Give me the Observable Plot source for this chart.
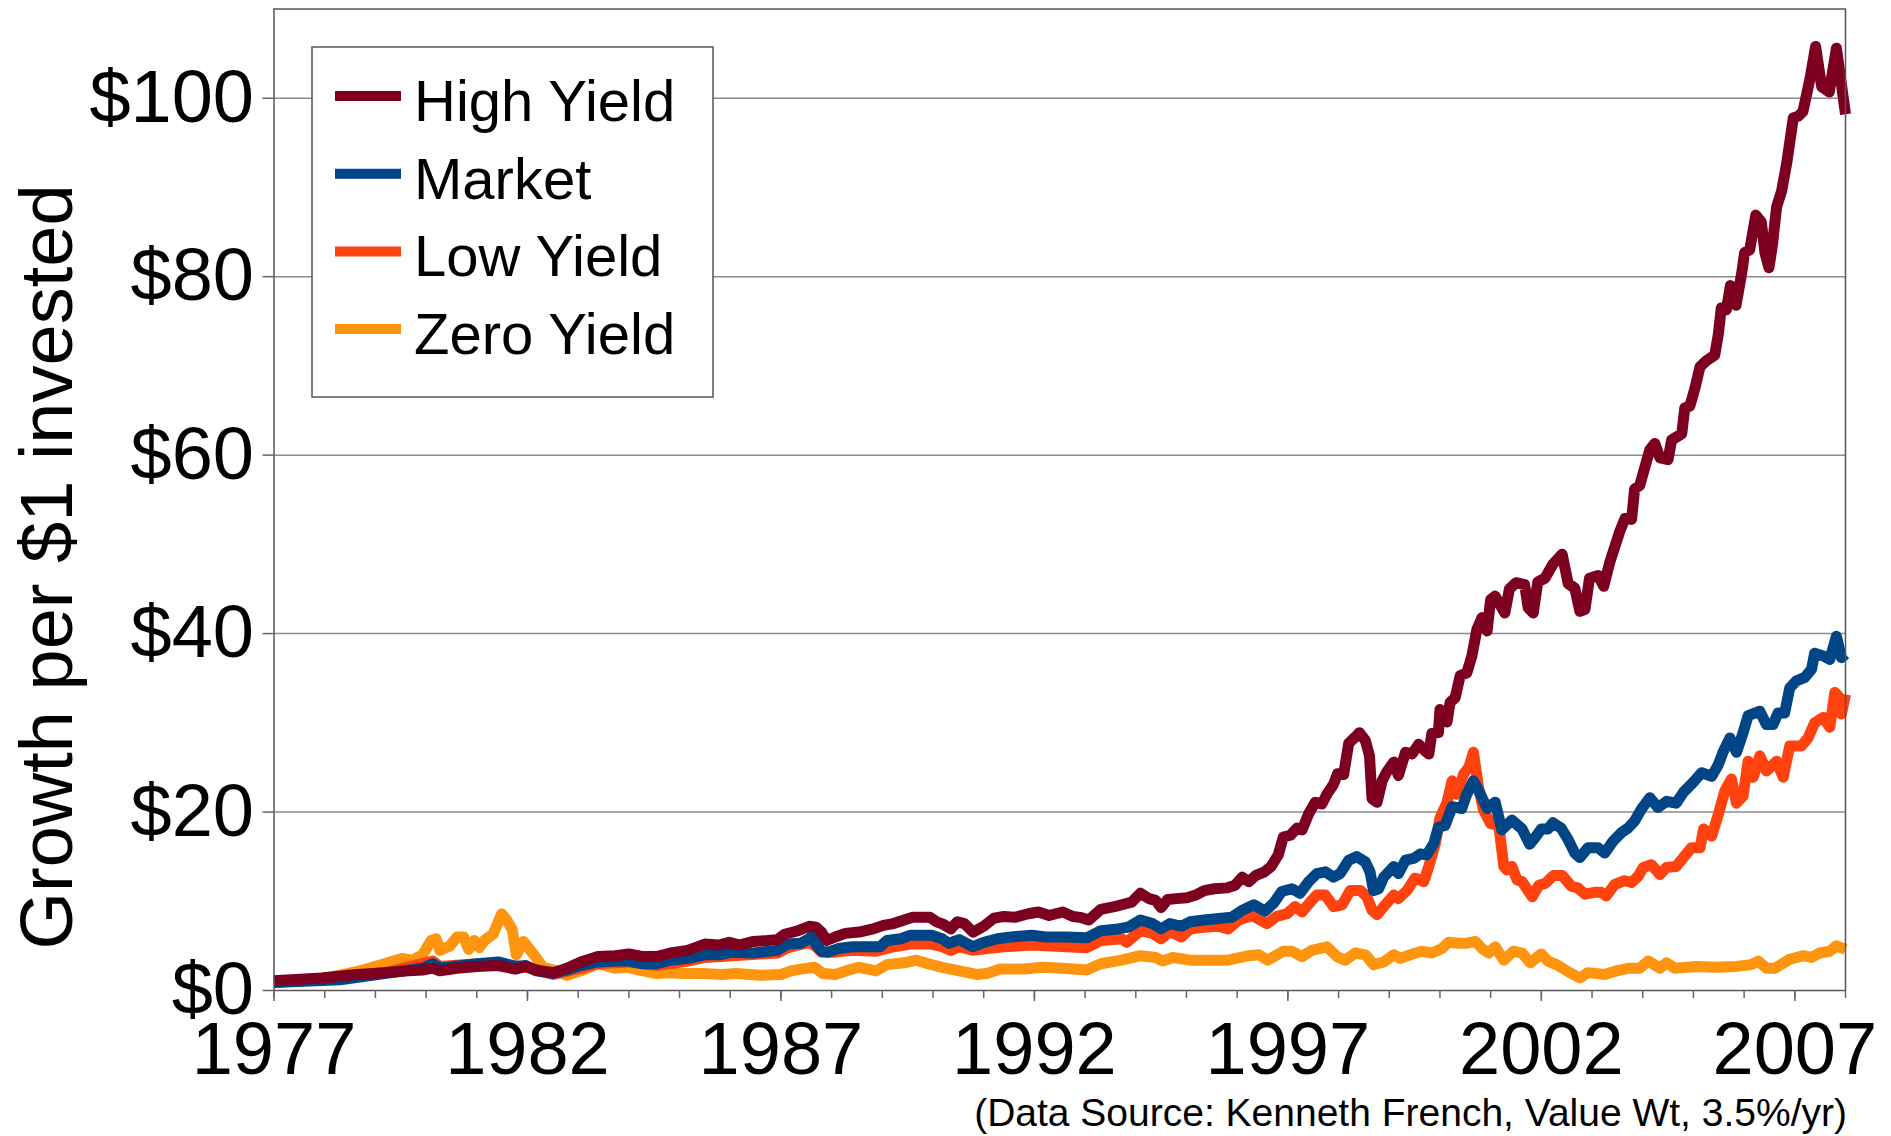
<!DOCTYPE html>
<html>
<head>
<meta charset="utf-8">
<script src="https://cdn.jsdelivr.net/npm/d3@7"></script>
<script src="https://cdn.jsdelivr.net/npm/@observablehq/plot@0.6"></script>
<style>
  html, body { margin: 0; padding: 0; background: #fff; }
  #wrap { position: relative; width: 1891px; height: 1136px; font-family: "Liberation Sans", Arial, sans-serif; }
  #caption { position: absolute; right: 44px; top: 1093px; font-size: 39px; line-height: 39px; color: #000; white-space: nowrap; }
</style>
</head>
<body>
<div id="wrap"><div id="chart"></div><div id="caption">(Data Source: Kenneth French, Value Wt, 3.5%/yr)</div></div>
<script>
// ---- data (year, growth of $1) ----
const seriesNames = ["High Yield", "Market", "Low Yield", "Zero Yield"];
const seriesColors = ["#7e0021", "#004586", "#ff420e", "#ff950e"];
const yTicks = [0, 20, 40, 60, 80, 100];
const xLabelTicks = [1977, 1982, 1987, 1992, 1997, 2002, 2007];
const xMinorTicks = d3.range(1977, 2009);
const yTitle = "Growth per $1 invested";

const highYield = [[1977.0,1.1],[1977.95,1.4],[1978.63,1.8],[1979.18,2.0],[1979.65,2.2],[1979.93,2.3],[1980.13,2.5],[1980.27,2.2],[1980.61,2.5],[1981.01,2.7],[1981.42,2.8],[1981.76,2.4],[1981.97,2.7],[1982.17,2.3],[1982.51,2.0],[1982.78,2.5],[1983.05,3.2],[1983.39,3.8],[1983.73,3.9],[1984.0,4.1],[1984.28,3.8],[1984.55,3.8],[1984.82,4.2],[1985.16,4.5],[1985.5,5.2],[1985.78,5.1],[1985.98,5.4],[1986.18,5.1],[1986.46,5.5],[1986.73,5.6],[1986.93,5.7],[1987.07,6.3],[1987.34,6.7],[1987.56,7.2],[1987.69,7.1],[1987.8,6.55],[1987.9,5.6],[1988.07,6.0],[1988.27,6.4],[1988.54,6.55],[1988.82,6.9],[1989.02,7.3],[1989.22,7.5],[1989.43,7.9],[1989.6,8.2],[1989.94,8.2],[1990.07,7.7],[1990.21,7.4],[1990.35,6.9],[1990.48,7.7],[1990.62,7.5],[1990.79,6.55],[1991.0,7.2],[1991.2,8.1],[1991.4,8.3],[1991.61,8.2],[1991.88,8.6],[1992.08,8.8],[1992.29,8.4],[1992.56,8.8],[1992.76,8.3],[1992.9,8.2],[1993.07,7.9],[1993.31,9.1],[1993.58,9.4],[1993.78,9.7],[1993.92,9.9],[1994.09,10.9],[1994.26,10.3],[1994.39,10.1],[1994.5,9.3],[1994.63,10.2],[1994.8,10.3],[1995.01,10.4],[1995.18,10.7],[1995.35,11.2],[1995.55,11.4],[1995.79,11.5],[1995.96,11.8],[1996.1,12.7],[1996.23,12.2],[1996.37,12.9],[1996.54,13.3],[1996.67,13.9],[1996.81,15.2],[1996.91,17.2],[1997.05,17.4],[1997.18,18.2],[1997.28,18.0],[1997.41,19.8],[1997.54,21.1],[1997.67,20.9],[1997.77,22.0],[1997.9,23.1],[1997.98,24.3],[1998.1,24.2],[1998.2,27.7],[1998.33,28.4],[1998.41,28.9],[1998.53,28.0],[1998.61,26.3],[1998.66,21.5],[1998.76,21.1],[1998.86,23.5],[1998.95,24.5],[1999.09,25.6],[1999.18,24.1],[1999.32,26.7],[1999.45,26.5],[1999.58,27.6],[1999.68,27.0],[1999.78,26.5],[1999.84,28.8],[1999.97,28.9],[2000.0,31.5],[2000.14,30.1],[2000.2,32.3],[2000.3,32.8],[2000.4,35.3],[2000.53,35.6],[2000.63,37.5],[2000.73,40.5],[2000.83,41.8],[2000.93,40.3],[2001.0,43.8],[2001.09,44.2],[2001.28,42.3],[2001.37,45.0],[2001.5,45.7],[2001.67,45.5],[2001.74,42.9],[2001.84,42.3],[2001.93,45.8],[2002.07,46.2],[2002.23,47.8],[2002.41,48.9],[2002.53,45.6],[2002.66,45.1],[2002.76,42.5],[2002.86,42.7],[2002.95,46.2],[2003.12,46.5],[2003.23,45.3],[2003.35,48.0],[2003.55,51.5],[2003.65,52.9],[2003.78,52.8],[2003.84,56.2],[2003.94,56.6],[2004.14,60.6],[2004.24,61.3],[2004.34,59.7],[2004.5,59.5],[2004.57,61.7],[2004.77,62.4],[2004.83,65.3],[2004.93,65.5],[2005.03,67.5],[2005.13,69.9],[2005.26,70.6],[2005.42,71.2],[2005.49,73.5],[2005.55,76.5],[2005.65,76.3],[2005.73,79.0],[2005.84,76.8],[2005.95,80.3],[2006.01,82.7],[2006.11,83.0],[2006.23,86.9],[2006.34,86.1],[2006.41,82.7],[2006.49,81.0],[2006.56,83.6],[2006.64,87.8],[2006.74,89.6],[2006.84,92.7],[2006.97,97.8],[2007.07,98.0],[2007.16,98.5],[2007.3,102.2],[2007.41,105.8],[2007.53,101.3],[2007.68,100.7],[2007.82,105.6],[2007.94,100.7],[2008.0,98.2]];

const market = [[1977.0,0.9],[1978.3,1.2],[1979.18,1.9],[1979.93,2.5],[1980.13,3.0],[1980.27,2.5],[1981.01,3.0],[1981.42,3.2],[1981.76,2.7],[1981.97,2.8],[1982.17,2.2],[1982.51,1.9],[1982.78,2.3],[1983.05,2.8],[1983.39,3.2],[1983.73,3.3],[1984.0,3.3],[1984.28,3.0],[1984.55,3.0],[1984.82,3.4],[1985.16,3.6],[1985.5,4.0],[1985.78,4.0],[1986.05,4.3],[1986.46,4.2],[1986.93,4.5],[1987.14,5.2],[1987.39,5.3],[1987.56,5.8],[1987.63,6.2],[1987.69,5.2],[1987.8,4.4],[1987.93,4.3],[1988.14,4.7],[1988.41,4.9],[1988.68,4.9],[1988.95,4.9],[1989.09,5.6],[1989.36,5.8],[1989.56,6.2],[1989.97,6.2],[1990.18,5.8],[1990.31,5.3],[1990.52,5.7],[1990.79,4.9],[1991.0,5.4],[1991.27,5.8],[1991.54,6.0],[1991.95,6.2],[1992.22,6.0],[1992.63,6.0],[1993.03,5.9],[1993.31,6.7],[1993.65,6.9],[1993.85,7.1],[1994.09,7.9],[1994.33,7.5],[1994.5,6.9],[1994.67,7.5],[1994.9,7.2],[1995.07,7.7],[1995.35,7.9],[1995.69,8.1],[1995.89,8.2],[1996.1,9.0],[1996.33,9.6],[1996.55,8.9],[1996.72,9.8],[1996.88,11.1],[1997.08,11.4],[1997.24,10.9],[1997.41,12.2],[1997.57,13.1],[1997.74,13.3],[1997.9,12.7],[1998.03,13.1],[1998.2,14.6],[1998.36,15.0],[1998.53,14.4],[1998.62,13.3],[1998.69,11.2],[1998.79,11.4],[1998.89,12.7],[1999.09,13.9],[1999.18,13.1],[1999.32,14.6],[1999.48,14.8],[1999.61,15.3],[1999.74,15.2],[1999.88,16.5],[1999.97,18.3],[2000.1,18.5],[2000.24,20.6],[2000.43,20.4],[2000.53,22.0],[2000.66,23.5],[2000.8,22.0],[2000.93,20.4],[2001.09,21.1],[2001.22,18.0],[2001.42,19.1],[2001.62,18.1],[2001.77,16.4],[2001.87,17.1],[2002.0,18.1],[2002.13,18.1],[2002.23,18.8],[2002.39,18.2],[2002.53,16.9],[2002.66,15.4],[2002.76,14.9],[2002.92,16.0],[2003.12,16.0],[2003.25,15.4],[2003.41,16.7],[2003.58,17.7],[2003.71,18.2],[2003.84,19.0],[2003.97,20.3],[2004.14,21.6],[2004.3,20.5],[2004.47,21.2],[2004.66,21.0],[2004.8,22.2],[2004.99,23.3],[2005.16,24.4],[2005.36,24.0],[2005.49,25.3],[2005.59,26.8],[2005.72,28.3],[2005.85,26.7],[2005.98,28.9],[2006.08,30.8],[2006.31,31.3],[2006.44,29.8],[2006.57,29.8],[2006.67,31.1],[2006.8,31.1],[2006.9,33.9],[2007.03,34.7],[2007.2,35.1],[2007.33,36.0],[2007.39,37.8],[2007.56,37.5],[2007.69,37.1],[2007.82,39.7],[2007.92,37.3],[2008.0,37.7]];

const lowYield = [[1977.0,0.9],[1979.18,2.0],[1980.13,3.3],[1980.27,2.7],[1981.01,3.0],[1981.42,3.0],[1981.97,2.6],[1982.51,1.8],[1983.05,2.5],[1983.39,3.0],[1984.0,3.2],[1984.55,2.8],[1985.16,3.3],[1985.5,3.7],[1986.05,3.9],[1986.93,4.2],[1987.14,4.8],[1987.56,5.4],[1987.69,4.9],[1987.8,4.3],[1988.07,4.3],[1988.41,4.5],[1988.88,4.4],[1989.22,4.9],[1989.56,5.2],[1989.97,5.2],[1990.18,4.9],[1990.35,4.5],[1990.52,4.9],[1990.79,4.5],[1991.06,4.7],[1991.4,4.9],[1991.95,5.1],[1992.63,4.9],[1993.03,4.8],[1993.31,5.6],[1993.72,5.8],[1993.82,5.4],[1994.09,6.7],[1994.33,6.4],[1994.5,5.8],[1994.67,6.6],[1994.9,6.0],[1995.07,6.9],[1995.35,7.1],[1995.62,7.2],[1995.82,6.9],[1996.03,7.9],[1996.3,8.4],[1996.59,7.5],[1996.78,8.3],[1996.98,8.6],[1997.14,9.4],[1997.28,8.8],[1997.44,9.9],[1997.57,10.7],[1997.74,10.7],[1997.9,9.4],[1998.07,9.6],[1998.23,11.2],[1998.43,11.2],[1998.56,10.5],[1998.66,9.0],[1998.76,8.5],[1998.89,9.4],[1999.09,10.7],[1999.18,10.3],[1999.35,11.2],[1999.51,12.6],[1999.68,12.2],[1999.78,13.9],[1999.91,16.5],[2000.0,19.3],[2000.14,21.1],[2000.24,23.5],[2000.34,22.0],[2000.47,24.3],[2000.57,25.0],[2000.66,26.7],[2000.76,22.8],[2000.86,20.2],[2001.0,18.7],[2001.16,18.5],[2001.26,13.9],[2001.32,13.5],[2001.42,13.9],[2001.52,12.4],[2001.62,12.2],[2001.82,10.5],[2001.95,11.8],[2002.08,12.0],[2002.24,12.9],[2002.41,12.9],[2002.59,11.7],[2002.72,11.5],[2002.86,10.8],[2003.05,11.0],[2003.18,11.0],[2003.28,10.6],[2003.45,11.9],[2003.64,12.3],[2003.78,12.1],[2003.91,12.8],[2004.01,13.8],[2004.17,14.1],[2004.34,13.0],[2004.47,13.8],[2004.66,13.9],[2004.83,15.1],[2004.96,16.0],[2005.13,16.0],[2005.2,18.1],[2005.36,17.3],[2005.49,19.7],[2005.62,22.4],[2005.75,23.7],[2005.85,21.0],[2005.98,21.8],[2006.08,25.7],[2006.18,23.9],[2006.31,26.3],[2006.44,24.6],[2006.64,25.7],[2006.77,23.9],[2006.9,27.4],[2007.13,27.4],[2007.26,28.3],[2007.39,30.0],[2007.56,30.6],[2007.69,29.5],[2007.79,33.4],[2007.86,33.0],[2007.92,31.0],[2008.0,33.2]];

const zeroYield = [[1977.0,0.9],[1977.95,1.3],[1978.7,2.2],[1979.18,3.0],[1979.52,3.6],[1979.73,3.4],[1979.93,4.0],[1980.1,5.6],[1980.2,5.8],[1980.27,4.5],[1980.47,5.0],[1980.61,6.0],[1980.74,6.0],[1980.84,4.6],[1980.95,5.6],[1981.05,4.8],[1981.15,5.6],[1981.32,6.3],[1981.49,8.6],[1981.59,7.9],[1981.7,6.8],[1981.78,4.0],[1981.92,5.5],[1982.1,4.2],[1982.31,2.6],[1982.51,2.3],[1982.78,1.7],[1983.05,2.2],[1983.39,3.0],[1983.73,2.5],[1983.97,2.6],[1984.28,2.2],[1984.55,1.9],[1984.76,2.0],[1985.1,1.9],[1985.44,1.9],[1985.85,1.8],[1986.12,1.9],[1986.59,1.7],[1987.0,1.8],[1987.2,2.2],[1987.39,2.4],[1987.66,2.6],[1987.83,1.9],[1988.07,1.8],[1988.34,2.3],[1988.54,2.6],[1988.88,2.2],[1989.09,2.9],[1989.43,3.1],[1989.67,3.4],[1989.9,3.0],[1990.18,2.6],[1990.52,2.2],[1990.86,1.8],[1991.06,1.9],[1991.33,2.4],[1991.81,2.4],[1992.15,2.6],[1992.56,2.5],[1993.03,2.3],[1993.31,3.0],[1993.72,3.4],[1994.09,3.9],[1994.39,3.7],[1994.53,3.3],[1994.73,3.7],[1995.07,3.4],[1995.48,3.4],[1995.82,3.4],[1996.23,3.9],[1996.43,4.0],[1996.6,3.4],[1996.91,4.4],[1997.08,4.4],[1997.28,3.8],[1997.47,4.5],[1997.77,4.9],[1997.97,3.8],[1998.13,3.4],[1998.33,4.2],[1998.53,4.0],[1998.69,2.9],[1998.89,3.2],[1999.09,4.0],[1999.22,3.6],[1999.41,4.0],[1999.64,4.4],[1999.84,4.2],[2000.04,4.7],[2000.17,5.4],[2000.37,5.3],[2000.53,5.3],[2000.7,5.5],[2000.83,4.7],[2000.96,4.2],[2001.09,4.9],[2001.26,3.4],[2001.45,4.4],[2001.62,4.2],[2001.78,3.1],[2002.0,4.1],[2002.13,3.3],[2002.3,2.9],[2002.56,2.0],[2002.76,1.4],[2002.92,2.0],[2003.25,1.8],[2003.48,2.2],[2003.74,2.5],[2003.94,2.5],[2004.11,3.3],[2004.34,2.5],[2004.47,3.1],[2004.63,2.5],[2005.06,2.7],[2005.45,2.6],[2005.85,2.7],[2006.14,2.9],[2006.28,3.3],[2006.44,2.5],[2006.61,2.5],[2006.9,3.5],[2007.16,3.9],[2007.33,3.7],[2007.49,4.2],[2007.69,4.4],[2007.82,5.0],[2008.0,4.6]];

const seriesValues = [highYield, market, lowYield, zeroYield];

// drawing order: Zero Yield at the bottom, High Yield on top
const drawOrder = [3, 2, 1, 0];
const data = drawOrder.flatMap(i => seriesValues[i].map(([year, value]) => ({series: seriesNames[i], year, value})));

const FONT = "'Liberation Sans', Arial, sans-serif";

const chart = Plot.plot({
  width: 1891,
  height: 1090,
  marginLeft: 273.5,
  marginRight: 46,
  marginTop: 8.5,
  marginBottom: 100,
  style: {fontFamily: FONT, background: "#fff", color: "#000", overflow: "visible"},
  x: {domain: [1977, 2008]},
  y: {domain: [0, 110]},
  color: {domain: seriesNames, range: seriesColors},
  marks: [
    Plot.gridY({ticks: yTicks.filter(d => d > 0), stroke: "#8c8c8c", strokeOpacity: 1, strokeWidth: 1.5}),
    Plot.line(data, {x: "year", y: "value", z: "series", stroke: "series", strokeWidth: 11, strokeLinejoin: "round", strokeLinecap: "butt"}),
    Plot.frame({stroke: "#555", strokeWidth: 1.5}),
    Plot.axisY({ticks: yTicks, tickSize: 11, tickPadding: 9, fontSize: 74, tickFormat: d => "$" + d, stroke: "#666", strokeWidth: 1.5, label: null, fill: "#000"}),
    Plot.axisX({ticks: xMinorTicks, tickSize: 8, tickFormat: () => "", stroke: "#666", strokeWidth: 1.5, label: null}),
    Plot.axisX({ticks: xLabelTicks, tickSize: 11, tickPadding: 20, fontSize: 74, tickFormat: d => String(d), stroke: "#666", strokeWidth: 1.5, label: null, fill: "#000"})
  ]
});

document.getElementById("chart").appendChild(chart);

const svg = d3.select(chart);

// rotated y-axis title
svg.append("text")
  .attr("transform", "translate(72,567) rotate(-90)")
  .attr("text-anchor", "middle")
  .attr("font-family", FONT)
  .attr("font-size", 74)
  .attr("fill", "#000")
  .text(yTitle);

// legend box inside the plot
const lg = svg.append("g").attr("font-family", FONT).attr("text-anchor", "start");
lg.append("rect")
  .attr("x", 312).attr("y", 47).attr("width", 401).attr("height", 350)
  .attr("fill", "#fff").attr("stroke", "#555").attr("stroke-width", 1.5);
seriesNames.forEach((name, i) => {
  const cy = 96 + i * 77.7;
  lg.append("line")
    .attr("x1", 335).attr("x2", 401).attr("y1", cy).attr("y2", cy)
    .attr("stroke", seriesColors[i]).attr("stroke-width", 10);
  lg.append("text")
    .attr("x", 414).attr("y", cy + 25)
    .attr("text-anchor", "start")
    .attr("font-size", 58).attr("fill", "#000")
    .text(name);
});
</script>
</body>
</html>
